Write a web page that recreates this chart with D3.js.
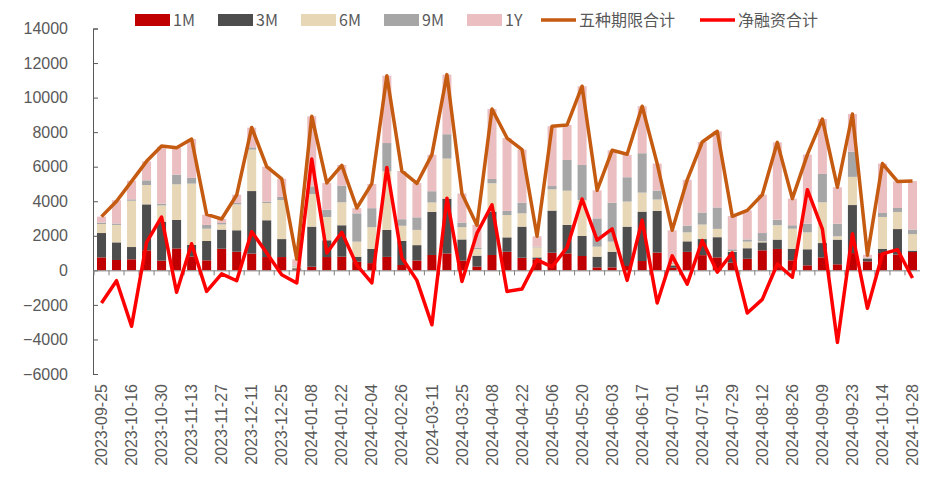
<!DOCTYPE html>
<html>
<head>
    <meta charset="utf-8">
    <title>同业存单发行与净融资</title>
    <style>
    body { margin: 0; background: #fff; }
    svg { font-family: "Noto Sans CJK SC", "Noto Sans", sans-serif; }
    .tick text { fill: #595959; font-size: 16px; }
    </style>
</head>
<body>
<svg id="chart"></svg>
<script src="https://d3js.org/d3.v7.min.js"></script>
<script>

    // weekly dates (every other one is shown on the axis)
    const dates = ["2023-09-25","2023-10-09","2023-10-16","2023-10-23","2023-10-30","2023-11-06","2023-11-13",
        "2023-11-20","2023-11-27","2023-12-04","2023-12-11","2023-12-18","2023-12-25","2024-01-01","2024-01-08",
        "2024-01-15","2024-01-22","2024-01-29","2024-02-04","2024-02-18","2024-02-26","2024-03-04","2024-03-11",
        "2024-03-18","2024-03-25","2024-04-01","2024-04-08","2024-04-15","2024-04-22","2024-04-28","2024-05-06",
        "2024-05-13","2024-05-20","2024-05-27","2024-06-03","2024-06-11","2024-06-17","2024-06-24","2024-07-01",
        "2024-07-08","2024-07-15","2024-07-22","2024-07-29","2024-08-05","2024-08-12","2024-08-19","2024-08-26",
        "2024-09-02","2024-09-09","2024-09-14","2024-09-23","2024-09-29","2024-10-14","2024-10-21","2024-10-28"];

    const m1 = [750,600,640,1160,560,1270,800,580,1250,1080,970,770,770,40,210,770,790,500,420,780,310,570,890,980,
        560,220,890,1080,730,640,1020,980,830,170,170,250,540,1030,150,1070,880,750,450,670,1160,1240,580,290,750,350,
        1000,520,1000,910,1060];
    const m3 = [1410,1020,710,2660,2260,1650,670,1120,1110,1240,3620,2130,1040,80,2320,970,1820,290,820,1560,1400,890,
        2500,3170,1230,630,2510,830,1800,110,2440,1650,1160,620,910,2280,2860,2410,140,610,930,1170,620,610,460,540,670,
        930,830,1430,2780,170,250,1480,80];
    const m6 = [520,1010,2680,1120,940,2060,3550,710,300,1500,2400,1000,2260,100,1890,1350,1330,870,1260,3390,870,880,
        540,2320,710,380,1640,1290,770,580,1230,1980,2080,580,580,1450,1100,660,90,520,840,480,50,380,60,830,1160,980,
        2360,190,1630,20,1840,990,960];
    const m9 = [80,80,80,270,100,560,330,220,80,80,130,80,180,60,440,420,960,1640,1100,1640,380,730,650,1410,270,90,250,
        240,620,40,190,1780,2030,1640,2260,1410,2280,520,40,390,700,1240,100,130,480,320,200,500,1640,730,1460,20,230,
        230,260];
    const y1 = [350,1350,1080,1100,3300,1550,2250,590,230,480,1140,2020,1050,360,4060,1550,1200,300,1400,3900,2790,1980,
        2110,3450,1680,1320,4050,4220,3070,600,3460,2030,4560,1620,3030,1300,2720,1560,1900,2650,4080,4410,1920,1680,
        2220,4480,1540,4000,3180,2110,2180,170,2860,1540,2810];

    // 五种期限合计 and 净融资合计
    const total = [3110,4000,5150,6310,7200,7100,7600,3240,2970,4360,8270,6000,5300,650,8920,5060,6080,3610,5020,11270,
        5740,5030,6700,11330,4440,2610,9340,7660,6990,1970,8340,8420,10660,4630,6950,6720,9500,6180,2320,5240,7430,8050,
        3130,3470,4380,7410,4150,6700,8760,4810,9050,880,6180,5150,5170];
    const net = [-1890,-600,-3240,1620,3090,-1270,1540,-1220,-200,-600,2240,1000,-250,-730,6450,1000,2200,300,-730,5950,
        730,-580,-3150,4180,-640,2150,3790,-1220,-1080,610,200,1330,4130,1750,2400,-580,2900,-1890,840,-800,1730,-100,
        1010,-2470,-1680,370,-400,4670,2390,-4170,2120,-2200,950,1200,-440];

    const yTicks = [14000,12000,10000,8000,6000,4000,2000,0,-2000,-4000,-6000];
    const keys = ["1M","3M","6M","9M","1Y"];
    const colors = {"1M": "#c00000", "3M": "#4d4d4d", "6M": "#e8d7b6", "9M": "#a6a6a6", "1Y": "#ebbfc1"};

    const svgWidth = 925, svgHeight = 485;
    const svg = d3.select("#chart")
        .attr("width", svgWidth)
        .attr("height", svgHeight);

    const x = d3.scaleBand().domain(dates).range([94, 920]).paddingInner(0.4).paddingOuter(0.2);
    const y = d3.scaleLinear().domain([-6000, 14000]).range([374, 28.5]);

    // stack table built from the arrays
    const rows = dates.map(function(d, i) {
        return {date: d, "1M": m1[i], "3M": m3[i], "6M": m6[i], "9M": m9[i], "1Y": y1[i]};
    });
    const series = d3.stack().keys(keys)(rows);

    svg.append("g")
        .selectAll("g")
        .data(series)
        .join("g")
        .attr("fill", function(d) { return colors[d.key]; })
        .selectAll("rect")
        .data(function(d) { return d; })
        .join("rect")
        .attr("x", function(d) { return x(d.data.date); })
        .attr("y", function(d) { return y(d[1]); })
        .attr("height", function(d) { return y(d[0]) - y(d[1]); })
        .attr("width", x.bandwidth());

    // y axis, ticks pointing inward
    const yAxis = svg.append("g")
        .attr("transform", "translate(93,0)")
        .call(d3.axisLeft(y).tickValues(yTicks).tickSize(-5).tickPadding(25).tickFormat(d3.format("d")));
    yAxis.selectAll("line, path").attr("stroke", "#595959");

    // x axis at zero, tick marks between the bars
    const step = x.step();
    const xAxis = svg.append("g")
        .attr("transform", "translate(0," + y(0) + ")")
        .call(d3.axisBottom(x).tickSize(0).tickFormat(""));
    xAxis.select(".domain").attr("stroke", "#7f7f7f").attr("d", "M93,0.5H920");
    xAxis.selectAll(".sep")
        .data(dates)
        .join("line")
        .attr("class", "sep")
        .attr("x1", function(d) { return x(d) - (step - x.bandwidth()) / 2; })
        .attr("x2", function(d) { return x(d) - (step - x.bandwidth()) / 2; })
        .attr("y1", 0)
        .attr("y2", 5)
        .attr("stroke", "#7f7f7f");

    // date labels at the bottom
    const labelAxis = svg.append("g")
        .attr("transform", "translate(" + (x.bandwidth() / 2 - x.bandwidth() / 2) + ",382)")
        .call(d3.axisBottom(x).tickSize(0).tickValues(dates.filter(function(d, i) { return i % 2 === 0; })));
    labelAxis.select(".domain").remove();
    labelAxis.selectAll("text")
        .attr("transform", "rotate(-90)")
        .attr("text-anchor", "end")
        .attr("x", -2)
        .attr("y", 0)
        .attr("dy", "0.35em");

    const line = function(values) {
        return d3.line()
            .x(function(d, i) { return x(dates[i]) + x.bandwidth() / 2; })
            .y(function(d) { return y(d); })(values);
    };

    svg.append("path")
        .attr("fill", "none")
        .attr("stroke", "#c55a11")
        .attr("stroke-width", 3.5)
        .attr("stroke-linejoin", "round")
        .attr("d", line(total));

    svg.append("path")
        .attr("fill", "none")
        .attr("stroke", "#ff0000")
        .attr("stroke-width", 3.5)
        .attr("stroke-linejoin", "round")
        .attr("d", line(net));

    // legend
    const legend = svg.append("g").attr("font-size", 16).attr("fill", "#595959");
    const boxX = [135, 218, 301, 384, 467];
    keys.forEach(function(k, i) {
        legend.append("rect")
            .attr("x", boxX[i]).attr("y", 14)
            .attr("width", 35).attr("height", 12)
            .attr("fill", colors[k]);
        legend.append("text")
            .attr("x", boxX[i] + 38).attr("y", 20).attr("dy", "0.35em")
            .text(k);
    });
    const lineItems = [{x: 541, color: "#c55a11", name: "五种期限合计"}, {x: 700, color: "#ff0000", name: "净融资合计"}];
    lineItems.forEach(function(d) {
        legend.append("line")
            .attr("x1", d.x).attr("x2", d.x + 35)
            .attr("y1", 20).attr("y2", 20)
            .attr("stroke", d.color).attr("stroke-width", 3.5);
        legend.append("text")
            .attr("x", d.x + 38).attr("y", 20).attr("dy", "0.35em")
            .text(d.name);
    });

</script>
</body>
</html>
